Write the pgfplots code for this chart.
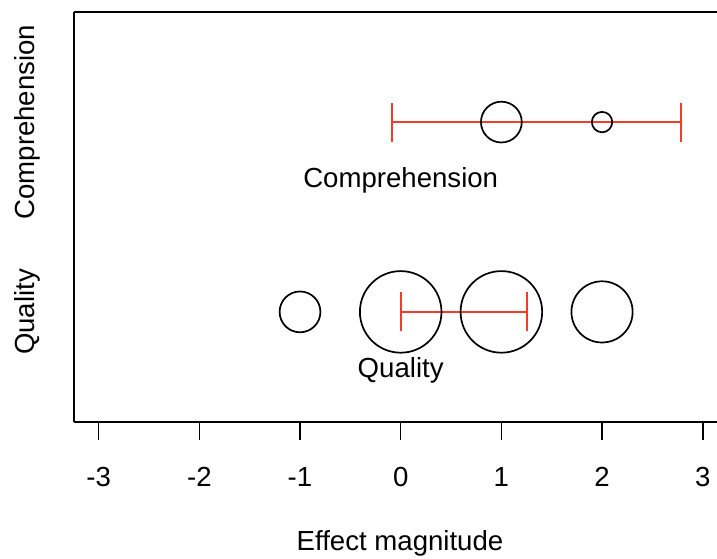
\documentclass[border=0pt]{standalone}
\usepackage{pgfplots}
\pgfplotsset{compat=1.18}
\usepackage{fontspec}
\setmainfont{Liberation Sans}
\definecolor{errred}{RGB}{242,62,38}
\pgfplotstableread{
x y r
-1 1 2
0 1 4
1 1 4
2 1 3
1 2 2
2 2 1
}\circles
\begin{document}
\begin{tikzpicture}
\begin{axis}[
  name=ax,
  scale only axis,
  width=321.5pt, height=205pt,
  xmin=-3.245, xmax=3.142,
  ymin=0.42, ymax=2.58,
  axis x line*=box, axis y line*=left,
  axis line style={line width=0.8pt},
  xtick={-3,-2,-1,0,1,2,3},
  xticklabels={-3,-2,-1,0,1,2,3},
  xtick pos=left,
  tick align=outside,
  major tick length=9pt,
  xtick style={line width=0.8pt, black},
  ytick={1,2},
  yticklabels={Quality,Comprehension},
  ytick style={draw=none},
  font=\fontsize{13.8pt}{16pt}\selectfont,
  xticklabel style={anchor=base, yshift=-23.5pt},
  yticklabel style={anchor=base, rotate=90, yshift=10.5pt},
  xlabel={Effect magnitude},
  xlabel style={anchor=base, at={(axis description cs:0.507,0)}, yshift=-64.5pt},
  clip=false,
]
% error bars
\addplot[errred, line width=1pt] coordinates {(-0.087,2) (2.78,2)};
\addplot[errred, line width=1pt] coordinates {(-0.087,1.897) (-0.087,2.103)};
\addplot[errred, line width=1pt] coordinates {(2.78,1.897) (2.78,2.103)};
\addplot[errred, line width=1pt] coordinates {(0,1) (1.25,1)};
\addplot[errred, line width=1pt] coordinates {(0,0.897) (0,1.103)};
\addplot[errred, line width=1pt] coordinates {(1.25,0.897) (1.25,1.103)};
% circles
\addplot[scatter, only marks, mark=o, line width=0.85pt,
  scatter/use mapped color={draw=black},
  point meta=\thisrow{r},
  visualization depends on={5.1*\thisrow{r} \as \msz},
  scatter/@pre marker code/.append style={/tikz/mark size=\msz pt}]
  table[x=x,y=y] {\circles};
\node[anchor=base] at (axis cs:0,1.655) {Comprehension};
\node[anchor=base] at (axis cs:0,0.655) {Quality};
\end{axis}
\pgfresetboundingbox
\path ([shift={(-37pt,-68.5pt)}]ax.south west) rectangle ([shift={(0pt,6pt)}]ax.north east);
\end{tikzpicture}
\end{document}
